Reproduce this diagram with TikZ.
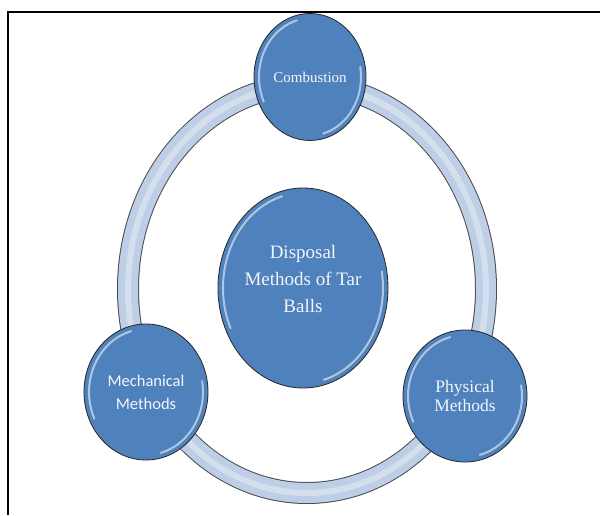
\documentclass[tikz,border=0pt]{standalone}
\usepackage{fontspec}
\setmainfont{Liberation Serif}
\newfontfamily\calibrifont{Carlito}
\usetikzlibrary{shapes.geometric}
\definecolor{ballblue}{HTML}{4F81BD}
\definecolor{ringblue}{HTML}{BDCEE6}
\definecolor{balltext}{HTML}{F2F6FB}

\begin{document}
\begin{tikzpicture}[x=1pt, y=-1pt,
  glint/.style={white, opacity=0.55, line width=2pt, line cap=round},
  ball/.style 2 args={ellipse, draw=black!85, line width=0.8pt, fill=ballblue,
    text=balltext, align=center, inner sep=0pt,
    minimum width=#1, minimum height=#2,
    path picture={
      \draw [glint] ([shift={(105:{#1/2-5pt} and {#2/2-5pt})}]path picture bounding box.center)
        arc [start angle=105, end angle=205, x radius={#1/2-5pt}, y radius={#2/2-5pt}];
      \draw [glint] ([shift={(285:{#1/2-5pt} and {#2/2-5pt})}]path picture bounding box.center)
        arc [start angle=285, end angle=370, x radius={#1/2-5pt}, y radius={#2/2-5pt}];
    }}]
\useasboundingbox (0,0) rectangle (600,515);
\draw [line width=2pt] (8,515) -- (8,12) -- (600,12);

\coordinate (hub) at (307,289);
\draw [line width=22pt, black!70] (hub) ellipse [x radius=179pt, y radius=204pt];
\draw [line width=20pt, ringblue] (hub) ellipse [x radius=179pt, y radius=204pt];
\draw [line width=6pt, white, opacity=0.35] (hub) ellipse [x radius=179pt, y radius=204pt];

\node [ball={112pt}{127pt}, font=\fontsize{15}{18}\selectfont] (comb) at (310,77) {Combustion};
\node [ball={170pt}{200pt}, font=\fontsize{19}{27}\selectfont] (disp) at (303,288)
  {\raisebox{8pt}[\height][\depth]{\begin{tabular}{@{}c@{}}Disposal\\Methods of Tar\\Balls\end{tabular}}};
\node [ball={124pt}{136pt}, font=\calibrifont\fontsize{16.5}{23}\selectfont] (mech) at (146,392) {Mechanical\\Methods};
\node [ball={124pt}{132pt}, font=\fontsize{17.5}{20}\selectfont] (phys) at (465,396) {Physical\\[-1pt]Methods};
\end{tikzpicture}
\end{document}
